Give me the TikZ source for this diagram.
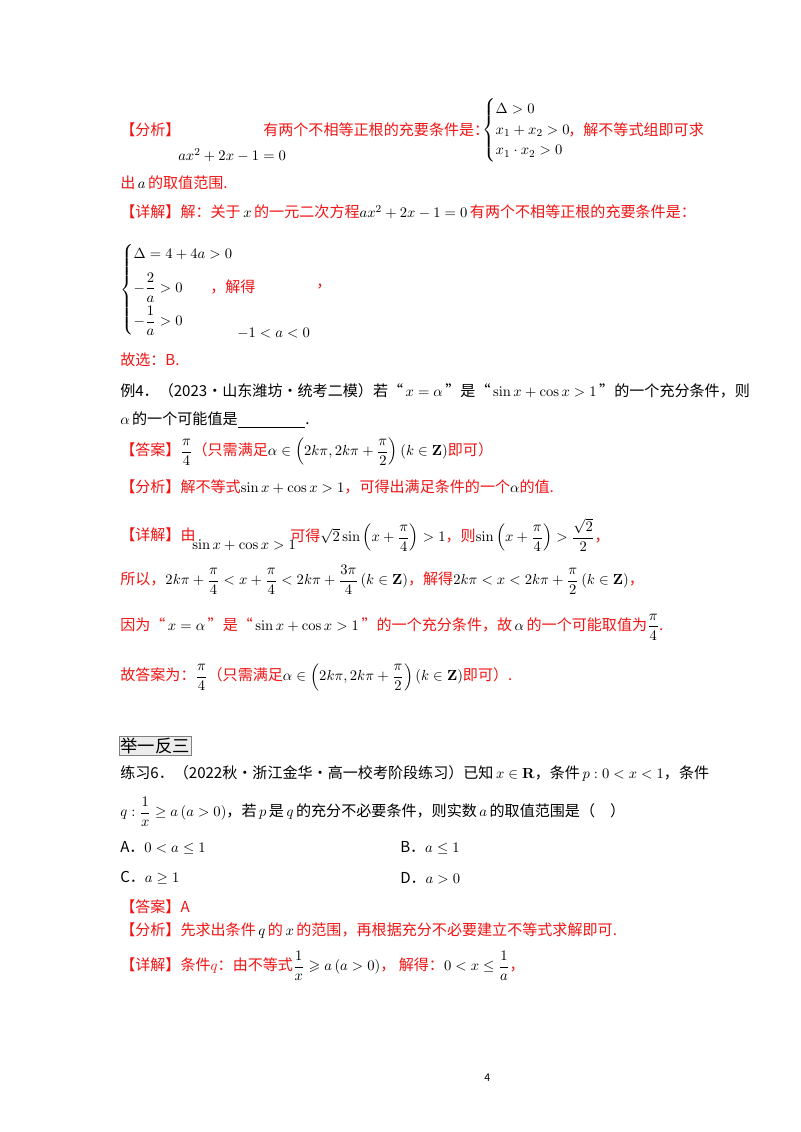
\documentclass[tikz,border=0pt]{standalone}
\usepackage{amsmath,amssymb}
\usepackage[no-math]{fontspec}
\setmainfont{Noto Sans CJK SC}
\definecolor{rd}{RGB}{240,20,20}
\begin{document}
\begin{tikzpicture}[x=0.75pt,y=-0.75pt,
  t/.style={anchor=west,inner sep=0pt,font=\fontsize{11.3}{13}\selectfont},
  r/.style={t,text=rd}]
\useasboundingbox (0,0) rectangle (800,1132);
\node[r] (a1) at (120,130) {【分析】};
\node[t] (a2) at (178,155) {$ax^2+2x-1=0$};
\node[r] (a3) at (263,130) {有两个不相等正根的充要条件是：};
\node[t] (a4) at (482,130) {$\begin{cases}\Delta>0\\ x_1+x_2>0\\ x_1\cdot x_2>0\end{cases}$};
\node[r] (a5) at (568,130) {，解不等式组即可求};
\node[r] (a6) at (120,183) {出\,{\color{black}$a$}\,的取值范围.};
\node[r] (b1) at (120,212) {【详解】解：关于\,{\color{black}$x$}\,的一元二次方程{\color{black}$ax^2+2x-1=0$}\,有两个不相等正根的充要条件是：};
\node[t] (b2) at (120,290) {$\begin{cases}\Delta=4+4a>0\\[6pt] -\dfrac{2}{a}>0\\[6pt] -\dfrac{1}{a}>0\end{cases}$};
\node[r] (b3) at (210,287) {，解得};
\node[r] (b4) at (316,287) {，};
\node[t] (b5) at (237,333) {$-1<a<0$};
\node[r] (b6) at (120,360) {故选：B.};
\node[t] (c1) at (120,391) {例4．（2023·山东潍坊·统考二模）若“\,$x=\alpha$\,”是“\,$\sin x+\cos x>1$\,”的一个充分条件，则};
\node[t] (c2) at (120,420) {$\alpha$\,的一个可能值是\underline{\hspace{4.5em}}.};
\node[r] (c3) at (120,452) {【答案】{\color{black}$\dfrac{\pi}{4}$}（只需满足{\color{black}$\alpha\in\left(2k\pi,2k\pi+\dfrac{\pi}{2}\right)\left(k\in\mathbf{Z}\right)$}即可）};
\node[r] (c4) at (120,487) {【分析】解不等式{\color{black}$\sin x+\cos x>1$}，可得出满足条件的一个{\color{black}$\alpha$}的值.};
\node[r] (c5) at (120,535) {【详解】由};
\node[t] (c6) at (192,545) {$\sin x+\cos x>1$};
\node[r] (c7) at (290,535) {可得{\color{black}$\sqrt2\sin\left(x+\dfrac{\pi}{4}\right)>1$}，则{\color{black}$\sin\left(x+\dfrac{\pi}{4}\right)>\dfrac{\sqrt2}{2}$}，};
\node[r] (c8) at (120,580) {所以，{\color{black}$2k\pi+\dfrac{\pi}{4}<x+\dfrac{\pi}{4}<2k\pi+\dfrac{3\pi}{4}\left(k\in\mathbf{Z}\right)$}，解得{\color{black}$2k\pi<x<2k\pi+\dfrac{\pi}{2}\left(k\in\mathbf{Z}\right)$}，};
\node[r] (c9) at (120,627) {因为“\,{\color{black}$x=\alpha$}\,”是“\,{\color{black}$\sin x+\cos x>1$}\,”的一个充分条件，故\,{\color{black}$\alpha$}\,的一个可能取值为{\color{black}$\dfrac{\pi}{4}$}.};
\node[r] (c10) at (120,677) {故答案为：{\color{black}$\dfrac{\pi}{4}$}（只需满足{\color{black}$\alpha\in\left(2k\pi,2k\pi+\dfrac{\pi}{2}\right)\left(k\in\mathbf{Z}\right)$}即可）.};
\node[t,draw=gray,fill=gray!15,inner sep=1pt,font=\fontsize{13}{15}\selectfont] (d0) at (119,746) {举一反三};
\node[t] (d1) at (120,773) {练习6．（2022秋·浙江金华·高一校考阶段练习）已知\,$x\in\mathbf{R}$，条件\,$p:0<x<1$，条件};
\node[t] (d2) at (120,812) {$q:\dfrac{1}{x}\ge a\left(a>0\right)$，若\,$p$\,是\,$q$\,的充分不必要条件，则实数\,$a$\,的取值范围是（\quad）};
\node[t] (d3) at (120,848) {A．$0<a\le1$};
\node[t] (d4) at (400,848) {B．$a\le1$};
\node[t] (d5) at (120,878) {C．$a\ge1$};
\node[t] (d6) at (400,878) {D．$a>0$};
\node[r] (e1) at (120,907) {【答案】A};
\node[r] (e2) at (120,931) {【分析】先求出条件\,{\color{black}$q$}\,的\,{\color{black}$x$}\,的范围，再根据充分不必要建立不等式求解即可.};
\node[r] (e3) at (120,966) {【详解】条件$q$：由不等式{\color{black}$\dfrac{1}{x}\geqslant a\left(a>0\right)$}，\ 解得：{\color{black}$0<x\le\dfrac{1}{a}$}，};
\node[t,font=\fontsize{8}{10}\selectfont] (pg) at (484,1078) {4};
\end{tikzpicture}
\end{document}
